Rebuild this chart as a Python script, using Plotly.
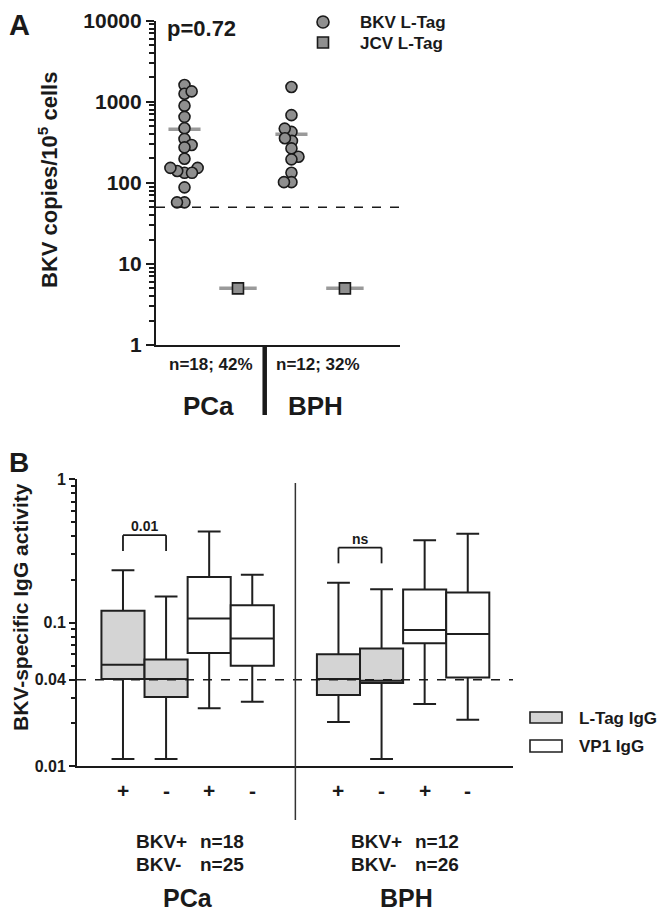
import math
import plotly.graph_objects as go

# ---------------- data ----------------
# Panel A: BKV / JCV L-Tag copies per 10^5 cells
pca_bkv = [1610, 1257, 1343, 892, 652, 472, 348, 293, 274, 198, 153, 133, 133, 140, 153, 88, 57.5, 57.5]
bph_bkv = [1520, 684, 425, 467, 329, 355, 266, 210, 195, 133, 102, 102]
pca_jcv = [5]
bph_jcv = [5]
a_groups = ["PCa", "BPH"]
a_counts = ["n=18; 42%", "n=12; 32%"]
a_cutoff = 50
p_value = "p=0.72"

# Panel B: BKV-specific IgG activity (box statistics)
b_labels = ["+", "-", "+", "-", "+", "-", "+", "-"]
ltag_pos = [0, 1, 5, 6]
vp1_pos = [2, 3, 7, 8]
ltag_lower = [0.0112, 0.0112, 0.0203, 0.0112]
ltag_q1 = [0.0404, 0.0303, 0.0313, 0.0379]
ltag_med = [0.0508, 0.0404, 0.0404, 0.0394]
ltag_q3 = [0.121, 0.0553, 0.0603, 0.0659]
ltag_upper = [0.232, 0.152, 0.190, 0.171]
vp1_lower = [0.0253, 0.0281, 0.0271, 0.0210]
vp1_q1 = [0.0615, 0.0500, 0.0718, 0.0415]
vp1_med = [0.1067, 0.0774, 0.0889, 0.0834]
vp1_q3 = [0.208, 0.132, 0.170, 0.162]
vp1_upper = [0.432, 0.216, 0.375, 0.417]
b_cutoff = 0.04
b_groups = ["PCa", "BPH"]
b_counts = [["BKV+", "n=18", "BKV-", "n=25"], ["BKV+", "n=12", "BKV-", "n=26"]]
sig = [("0.01", 0, 1), ("ns", 5, 6)]

# ---------------- layout helpers ----------------
# The page body has an 8 px margin, so the figure is drawn 8 px in from the
# window's top-left corner; coordinates below are window pixels.
OFF = 8
W, H = 666 - OFF, 913 - OFF
FONT = "Liberation Sans, Arial, sans-serif"
INK = "#1a1a1a"


def fx(px):
    return (px - OFF) / W


def fy(py):
    return 1 - (py - OFF) / H


A_X0, A_X1, A_Y0, A_Y1 = 156, 400, 345, 20.7
B_X0, B_X1, B_Y0, B_Y1 = 77, 513, 766, 479.3
A_XR = [-0.533, 4.03]
B_XR = [-1.067, 9.05]

a_px_per_unit = (A_X1 - A_X0) / (A_XR[1] - A_XR[0])
a_px_per_dec = (A_Y0 - A_Y1) / 4.0


def beeswarm(vals, diam):
    """x offsets (data units) so markers spaced diam px apart do not collide."""
    order = sorted(range(len(vals)), key=lambda i: vals[i])
    placed = []
    offs = [0.0] * len(vals)
    for k, i in enumerate(order):
        yv = math.log10(vals[i]) * a_px_per_dec
        intervals = []
        for (xp, yp) in placed:
            dy = abs(yv - yp)
            if dy < diam:
                dx = math.sqrt(diam * diam - dy * dy)
                intervals.append((xp - dx, xp + dx))
        cands = [0.0] + [e for iv in intervals for e in iv]
        best = 0.0
        for c in sorted(cands, key=lambda c: (abs(c), c if k % 2 else -c)):
            if all(not (lo + 1e-6 < c < hi - 1e-6) for lo, hi in intervals):
                best = c
                break
        placed.append((best, yv))
        offs[i] = best / a_px_per_unit
    return offs


fig = go.Figure()

# ---------------- Panel A ----------------
GREY = "#8f8f8f"
MEANC = "#9a9a9a"
a_series = [(pca_bkv, 0, "circle"), (pca_jcv, 1, "square"), (bph_bkv, 2, "circle"), (bph_jcv, 3, "square")]
for vals, pos, sym in a_series:
    mean = sum(vals) / len(vals)
    half = 0.3 if sym == "circle" else 0.35
    fig.add_trace(go.Scatter(x=[pos - half, pos + half], y=[mean, mean], mode="lines",
                             line=dict(color=MEANC, width=3.5), xaxis="x", yaxis="y",
                             showlegend=False, hoverinfo="skip"))
    offs = beeswarm(vals, 7.5)
    fig.add_trace(go.Scatter(x=[pos + o for o in offs], y=vals, mode="markers",
                             marker=dict(symbol=sym, size=11, color=GREY,
                                         line=dict(color=INK, width=1.6)),
                             xaxis="x", yaxis="y", showlegend=False))

# ---------------- Panel B ----------------
fig.add_trace(go.Box(x=ltag_pos, lowerfence=ltag_lower, q1=ltag_q1, median=ltag_med,
                     q3=ltag_q3, upperfence=ltag_upper, width=1.0, whiskerwidth=0.53,
                     fillcolor="#d4d4d4", line=dict(color="#1f1f1f", width=2),
                     boxpoints=False, xaxis="x2", yaxis="y2", showlegend=False, name="L-Tag IgG"))
fig.add_trace(go.Box(x=vp1_pos, lowerfence=vp1_lower, q1=vp1_q1, median=vp1_med,
                     q3=vp1_q3, upperfence=vp1_upper, width=1.0, whiskerwidth=0.53,
                     fillcolor="#ffffff", line=dict(color="#1f1f1f", width=2),
                     boxpoints=False, xaxis="x2", yaxis="y2", showlegend=False, name="VP1 IgG"))

a_minor = [m * 10 ** d for d in range(4) for m in range(2, 10)]
b_minor = [m * 10 ** d for d in (-2, -1) for m in range(2, 10) if abs(m * 10 ** d - 0.04) > 1e-9]

tickfontA = dict(family=FONT, size=21, color=INK, weight="bold")
tickfontB = dict(family=FONT, size=16, color=INK, weight="bold")

fig.update_layout(
    template="none",
    width=W, height=H, margin=dict(l=0, r=0, t=0, b=0, autoexpand=False),
    paper_bgcolor="white", plot_bgcolor="white",
    boxmode="overlay", showlegend=False,
    font=dict(family=FONT, color=INK),
    xaxis=dict(domain=[fx(A_X0), fx(A_X1)], range=A_XR, showline=True, linewidth=2.2,
               linecolor=INK, showticklabels=False, ticks="", showgrid=False,
               zeroline=False, anchor="y", automargin=False),
    yaxis=dict(domain=[fy(A_Y0), fy(A_Y1)], type="log", range=[0, 4], showline=True,
               linewidth=2.2, linecolor=INK, ticks="outside", ticklen=8, tickwidth=2,
               tickcolor=INK, tickvals=[1, 10, 100, 1000, 10000],
               ticktext=["1", "10", "100", "1000", "10000"], tickfont=tickfontA,
               showgrid=False, zeroline=False, anchor="x", automargin=False,
               minor=dict(tickmode="array", tickvals=a_minor, ticks="outside", ticklen=5,
                          tickwidth=1.5, tickcolor=INK, showgrid=False)),
    xaxis2=dict(domain=[fx(B_X0), fx(B_X1)], range=B_XR, showline=True, linewidth=2,
                linecolor=INK, showticklabels=False, ticks="", showgrid=False,
                zeroline=False, anchor="y2", automargin=False),
    yaxis2=dict(domain=[fy(B_Y0), fy(B_Y1)], type="log", range=[-2, 0], showline=True,
                linewidth=2, linecolor=INK, ticks="outside", ticklen=6, tickwidth=2,
                tickcolor=INK, tickvals=[0.01, 0.04, 0.1, 1],
                ticktext=["0.01", "0.04", "0.1", "1"], tickfont=tickfontB,
                showgrid=False, zeroline=False, anchor="x2", automargin=False,
                minor=dict(tickmode="array", tickvals=b_minor, ticks="outside", ticklen=4,
                           tickwidth=1.5, tickcolor=INK, showgrid=False)),
)

BAR_UP, END_UP = 0.245, 0.135
shapes = []
# cutoff dashed lines
shapes.append(dict(type="line", xref="x domain", yref="y", x0=0, x1=1, y0=a_cutoff, y1=a_cutoff,
                   line=dict(color=INK, width=1.6, dash="dash")))
shapes.append(dict(type="line", xref="x2 domain", yref="y2", x0=0, x1=1, y0=b_cutoff, y1=b_cutoff,
                   line=dict(color=INK, width=1.6, dash="dash")))
# separators
shapes.append(dict(type="line", xref="x", yref="paper", x0=1.5, x1=1.5, y0=fy(345), y1=fy(415),
                   line=dict(color=INK, width=4.5)))
shapes.append(dict(type="line", xref="x2", yref="paper", x0=4, x1=4, y0=fy(483), y1=fy(820),
                   line=dict(color="#333333", width=1.5)))
# significance brackets
for txt, a, b in sig:
    top = ltag_upper[ltag_pos.index(a)]
    ybar = top * 10 ** BAR_UP
    yend = top * 10 ** END_UP
    shapes.append(dict(type="line", xref="x2", yref="y2", x0=a, x1=b, y0=ybar, y1=ybar,
                       line=dict(color=INK, width=1.8)))
    for xx in (a, b):
        shapes.append(dict(type="line", xref="x2", yref="y2", x0=xx, x1=xx, y0=ybar, y1=yend,
                           line=dict(color=INK, width=1.8)))

# legends (drawn as symbols)
shapes.append(dict(type="circle", xref="paper", yref="paper", x0=fx(317), x1=fx(329),
                   y0=fy(28), y1=fy(16), fillcolor=GREY, line=dict(color=INK, width=1.6)))
shapes.append(dict(type="rect", xref="paper", yref="paper", x0=fx(317.5), x1=fx(328.5),
                   y0=fy(48), y1=fy(37), fillcolor=GREY, line=dict(color=INK, width=1.6)))
shapes.append(dict(type="rect", xref="paper", yref="paper", x0=fx(530), x1=fx(562),
                   y0=fy(723), y1=fy(712), fillcolor="#d4d4d4", line=dict(color="#1f1f1f", width=1.6)))
shapes.append(dict(type="rect", xref="paper", yref="paper", x0=fx(530), x1=fx(562),
                   y0=fy(752), y1=fy(740), fillcolor="#ffffff", line=dict(color="#1f1f1f", width=1.6)))
fig.update_layout(shapes=shapes)


def bold(size):
    return dict(family=FONT, size=size, color=INK, weight="bold")


def label(text, x, y, size, xanchor="center", yanchor="middle", xref="paper", yref="paper",
          angle=0):
    return dict(text=text, x=x, y=y, xref=xref, yref=yref, xanchor=xanchor, yanchor=yanchor,
                textangle=angle, showarrow=False, font=bold(size), borderpad=0)


ann = []
ann.append(label("A", fx(OFF), fy(OFF), 29, xanchor="left", yanchor="top"))
ann.append(label("B", fx(OFF), fy(462), 28, xanchor="left"))
ann.append(label("BKV copies/10<sup>5</sup> cells", fx(48), fy(180), 22, angle=-90))
ann.append(label("BKV-specific IgG activity", fx(20), fy(607), 21, angle=-90))
ann.append(label(p_value, fx(166), fy(29), 22, xanchor="left"))
ann.append(label("BKV L-Tag", fx(359), fy(22), 17, xanchor="left"))
ann.append(label("JCV L-Tag", fx(359), fy(43), 17, xanchor="left"))
for g, (name, cnt) in enumerate(zip(a_groups, a_counts)):
    cx = 0.5 + 2 * g
    ann.append(label(cnt, cx, fy(364), 17, xref="x"))
    ann.append(label(name, cx - 0.05, fy(406), 26, xref="x"))
for pos, lab in zip(sorted(ltag_pos + vp1_pos), b_labels):
    ann.append(label(lab, pos, fy(790), 21, xref="x2"))
for txt, a, b in sig:
    ybar = ltag_upper[ltag_pos.index(a)] * 10 ** BAR_UP
    ann.append(label(txt, (a + b) / 2, math.log10(ybar), 14, yanchor="bottom",
                     xref="x2", yref="y2"))
gx = [(135, 199, 188), (350, 414, 406)]
for (lx, nx, cx), name, cnt in zip(gx, b_groups, b_counts):
    ann.append(label(cnt[0], fx(lx), fy(841), 19, xanchor="left"))
    ann.append(label(cnt[1], fx(nx), fy(841), 19, xanchor="left"))
    ann.append(label(cnt[2], fx(lx), fy(864), 19, xanchor="left"))
    ann.append(label(cnt[3], fx(nx), fy(864), 19, xanchor="left"))
    ann.append(label(name, fx(cx), fy(913), 25, yanchor="bottom"))
ann.append(label("L-Tag IgG", fx(578), fy(718), 17, xanchor="left"))
ann.append(label("VP1 IgG", fx(578), fy(746), 17, xanchor="left"))
fig.update_layout(annotations=ann)

fig.write_html("out.html")
